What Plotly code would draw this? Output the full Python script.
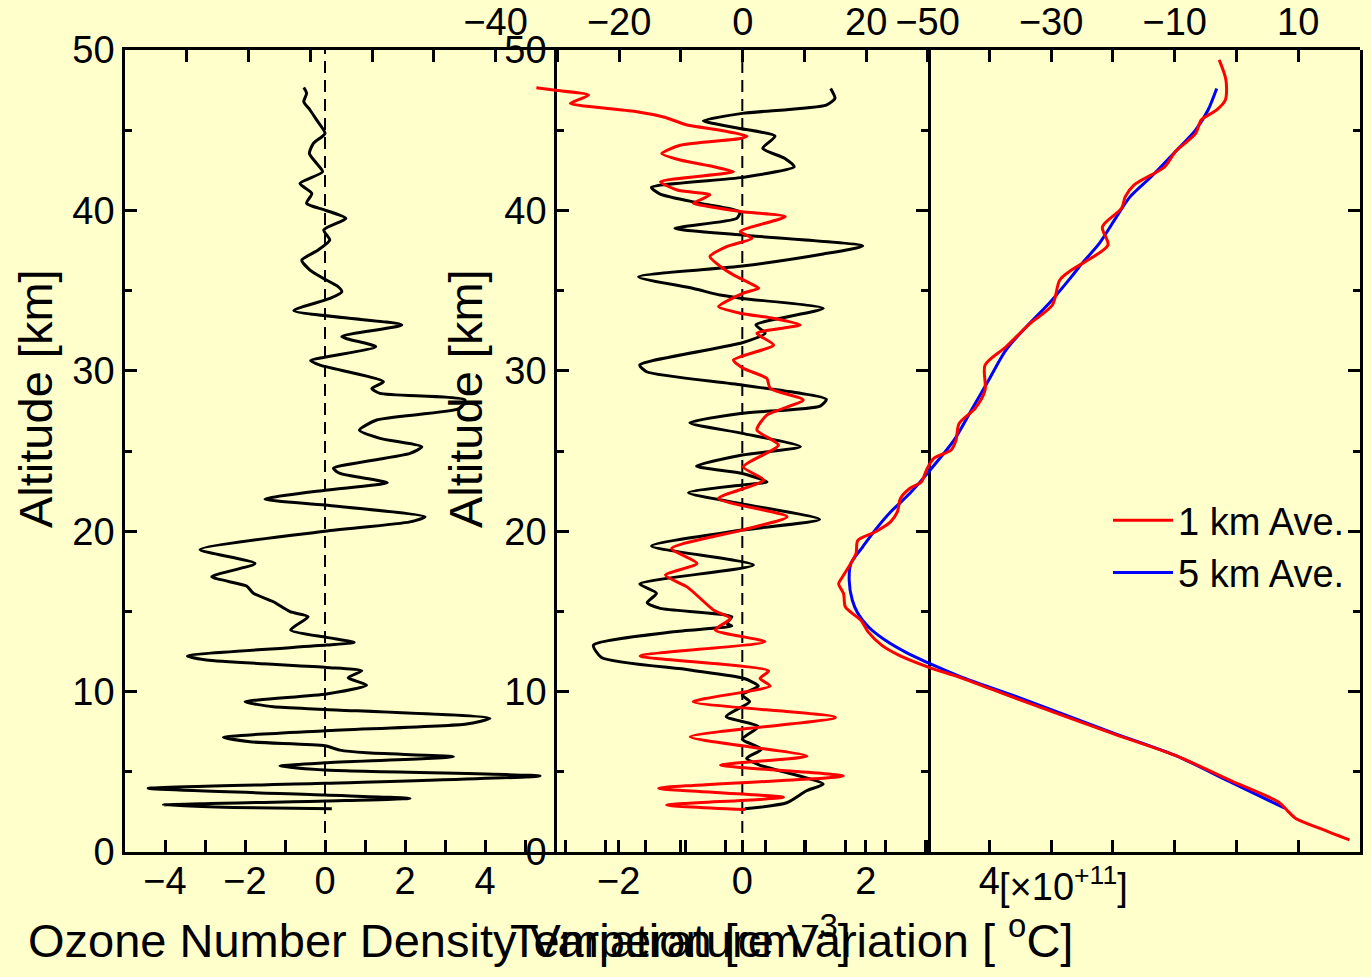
import plotly.graph_objects as go

# ---------------- data ----------------
# Panel 1: ozone number density variation (x 10^11 cm^-3)
oz1_alt = [47.66, 47.3, 46.78, 46.26, 45.64, 44.8, 44.18, 43.55, 42.93, 42.41, 41.68, 41.06, 40.44, 40.02,
           39.5, 38.78, 38.15, 37.53, 36.9, 36.28, 35.76, 35.24, 34.92, 34.51, 33.75, 32.86, 32.13, 31.5,
           30.63, 30.35, 29.32, 28.9, 28.59, 28.18, 27.66, 26.93, 26.3, 25.79, 25.26, 24.85, 23.92, 23.6,
           23.02, 22.56, 22.0, 21.63, 20.9, 20.58, 20.0, 18.86, 17.99, 17.16, 16.58, 16.13, 15.6, 14.98,
           14.67, 13.84, 13.38, 13.07, 12.9, 12.22, 11.97, 11.51, 11.3, 10.86, 10.4, 9.85, 9.37, 9.05, 8.89,
           8.33, 7.98, 7.56, 7.15, 6.87, 6.62, 6.35, 6.18, 5.94, 5.56, 5.36, 5.11, 4.74, 4.28, 3.97, 3.55,
           3.34, 3.18, 2.93, 2.78, 2.69]
oz1_val = [-0.53, -0.46, -0.53, -0.375, -0.21, 0.0, -0.29, -0.39, -0.21, -0.06, -0.625, -0.33, -0.46, 0.0,
           0.52, -0.03, 0.12, -0.17, -0.58, -0.375, -0.04, 0.33, 0.42, 0.125, -0.78, 1.92, 0.42, 1.27,
           -0.36, -0.125, 1.46, 1.17, 1.375, 3.5, 3.375, 1.29, 0.86, 1.375, 2.42, 2.125, 0.21, 0.375,
           1.56, 0.0, -1.5, 0.0, 2.5, 2.125, 0.0, -3.125, -1.75, -2.83, -1.96, -1.79, -1.29, -0.875,
           -0.42, -0.86, 0.04, 0.73, 0.04, -3.44, -2.96, 0.04, 0.92, 0.58, 1.04, 0.04, -2.0, -1.29, 0.0,
           4.125, 3.54, 0.0, -2.54, -1.875, 0.0, 0.375, 1.04, 3.21, 0.0, -1.125, 0.0, 5.375, 0.0, -4.42, 0.0,
           2.125, 0.0, -4.04, -2.29, 0.17]

# Panel 2: black variation profile (bottom axis) and temperature variation (top axis, deg C)
oz2_alt = [47.6, 46.99, 46.57, 46.05, 45.59, 45.11, 44.63, 43.87, 43.24, 42.72, 42.06, 41.43, 41.02, 40.44,
           39.92, 39.5, 38.88, 38.46, 37.78, 37.28, 36.53, 35.86, 35.13, 34.72, 34.51, 33.89, 32.86, 32.34,
           31.75, 30.36, 29.94, 29.11, 28.22, 27.8, 27.35, 26.76, 26.1, 25.27, 24.75, 24.06, 23.6, 23.08,
           22.88, 22.4, 21.7, 20.74, 20.07, 19.08, 17.89, 16.71, 16.13, 15.54, 15.19, 14.67, 14.25, 14.09,
           13.73, 12.9, 12.13, 11.35, 10.83, 10.35, 9.79, 9.37, 8.45, 7.82, 7.03, 6.41, 5.84, 5.42, 4.24,
           3.82, 3.07, 2.69]
oz2_val = [1.43, 1.50, 1.36, 0.0, -0.63, -0.04, 0.53, 0.33, 0.69, 0.84, 0.0, -1.47, -1.33, -0.68,
           -0.04, -0.09, -1.09, 0.0, 1.95, 1.31, 0.0, -1.68, -0.79, -0.36, 0.0, 1.31, 0.22, 0.37,
           0.0, -1.66, -1.55, 0.0, 1.36, 1.26, 0.0, -0.85, 0.0, 0.94, 0.0, -0.74, 0.0, 0.4,
           0.0, -0.87, 0.0, 1.25, 0.0, -1.47, 0.18, -1.66, -1.39, -1.54, -1.33, -0.17, -0.25, -0.17,
           -1.12, -2.41, -2.28, -0.85, 0.02, 0.26, 0.0, 0.12, -0.26, 0.26, 0.0, 0.31, 0.07, 0.28, 1.31,
           1.04, 0.72, 0.04]

tv_alt = [47.65, 47.5, 47.19, 46.67, 46.42, 46.15, 45.79, 45.32, 45.0, 44.63, 44.48, 44.06, 43.55, 43.14,
          42.72, 42.41, 41.78, 41.27, 40.96, 40.44, 40.23, 39.92, 39.61, 38.68, 38.26, 37.74, 37.12, 36.5,
          35.98, 35.46, 35.15, 34.84, 34.0, 33.59, 33.27, 32.86, 32.34, 31.61, 30.67, 30.15, 29.53, 28.9,
          28.18, 27.24, 26.31, 25.37, 24.01, 23.19, 22.04, 20.9, 20.07, 18.92, 17.99, 17.26, 16.53, 15.08,
          14.56, 13.84, 13.11, 12.22, 11.3, 10.82, 10.35, 9.37, 8.39, 7.18, 5.98, 5.42, 4.74, 3.97, 3.41,
          2.93, 2.65]
tv_val = [-33.4, -30.6, -24.95, -27.9, -23.3, -17.1, -12.5, -9.0, -3.6, 0.7, -0.4, -10.1, -13.1, -10.1,
          -4.7, -1.5, -13.3, -10.6, -5.3, -8.0, -5.3, -0.1, 6.9, -0.4, 1.5, -2.6, -5.3, -3.6,
          -1.5, 1.2, 2.6, 0.1, -3.9, -0.4, 5.0, 9.3, 2.3, 5.0, -1.5, 0.1, 3.9, 4.45,
          9.8, 3.9, 2.3, 5.8, 0.1, 3.4, -3.9, 7.2, -0.1, -11.5, -7.4, -12.5, -9.0, -4.7,
          -2.0, -4.45, 3.6, -16.6, 4.2, 2.8, 4.45, -8.0, 15.0, -8.5, 10.4, -3.6, 16.3, -13.6, 6.6,
          -12.3, 0.4]

# Panel 3: temperature profiles (deg C)
t1_alt = [49.38, 48.13, 46.88, 46.26, 45.64, 44.8, 43.66, 42.72, 41.58, 40.86, 40.13, 38.98, 37.84, 36.8,
          36.28, 35.66, 34.1, 32.96, 31.5, 30.36, 28.8, 27.66, 26.72, 25.69, 25.06, 24.54, 23.81, 23.08,
          22.66, 22.04, 21.2, 20.58, 19.95, 19.43, 18.6, 17.14, 16.73, 16.1, 15.27, 14.44, 13.71, 12.88,
          12.26, 11.53, 10.86, 9.56, 7.38, 6.02, 4.47, 3.12, 2.6, 2.09, 1.47, 0.75]
t1_val = [-2.8, -1.7, -1.8, -3.2, -5.7, -6.6, -9.9, -11.6, -16.6, -18.0, -18.6, -21.7, -20.8, -24.5,
          -26.7, -28.6, -29.8, -33.4, -37.3, -40.7, -40.7, -42.3, -44.9, -45.4, -46.2, -49.0, -50.2, -51.0,
          -52.9, -54.4, -54.9, -56.0, -58.5, -61.3, -61.6, -63.8, -64.4, -63.6, -63.3, -60.8, -59.6, -57.4,
          -54.6, -49.9, -44.6, -35.6, -20.0, -9.9, -1.0, 6.8, 8.2, 9.6, 13.5, 18.3]

t5_alt = [47.6, 46.26, 45.02, 43.66, 42.1, 40.86, 39.61, 37.95, 36.7, 35.87, 34.31, 32.75, 31.3, 29.43,
          27.56, 25.69, 23.81, 22.35, 21.2, 20.07, 19.03, 18.0, 16.96, 15.71, 14.88, 14.04, 13.21, 12.38,
          11.79, 10.92, 9.68, 7.43, 6.02, 4.37, 2.72]
t5_val = [-3.2, -4.6, -6.6, -9.9, -13.8, -17.2, -19.4, -22.2, -25.0, -26.7, -30.1, -34.0, -37.3, -40.1,
          -42.9, -45.7, -49.6, -52.9, -56.0, -58.5, -60.5, -62.4, -62.7, -62.2, -61.3, -59.6, -56.9, -53.2,
          -49.9, -44.6, -35.6, -20.0, -9.9, -1.0, 7.9]

zero_line_alt = [0, 50]
zero_line_val = [0, 0]

# tick labels
y_ticks = [0, 10, 20, 30, 40, 50]
x1_ticks = list(range(-5, 16))
x1_labels = {-4: "\u22124", -2: "\u22122", 0: "0", 2: "2", 4: "4"}
x2_ticks = list(range(-3, 11))
x2_labels = {-2: "\u22122", 0: "0", 2: "2", 4: "4"}
x3_ticks = list(range(-100, 31, 10))
x3_labels = {-40: "\u221240", -20: "\u221220", 0: "0", 20: "20"}
x4_ticks = list(range(-50, 21, 10))
x4_labels = {-50: "\u221250", -30: "\u221230", -10: "\u221210", 10: "10"}

# ---------------- figure ----------------
W, H = 1371, 977
BG = "#FFFFCC"
FONT = "Liberation Sans, Arial, sans-serif"
LW = 3

def px(v):
    return v / W

def py(v):
    return (H - v) / H

dom_a = [px(125), px(928)]
dom_b = [px(557), px(1360)]
dom_y = [py(852), py(50)]

fig = go.Figure()

dash = "12px,7px"
fig.add_trace(go.Scatter(x=zero_line_val, y=zero_line_alt, xaxis="x", yaxis="y", mode="lines",
                         line=dict(color="black", width=2, dash=dash), showlegend=False, hoverinfo="skip"))
fig.add_trace(go.Scatter(x=zero_line_val, y=zero_line_alt, xaxis="x2", yaxis="y2", mode="lines",
                         line=dict(color="black", width=2, dash=dash), showlegend=False, hoverinfo="skip"))

fig.add_trace(go.Scatter(x=oz1_val, y=oz1_alt, xaxis="x", yaxis="y", mode="lines",
                         line=dict(color="black", width=LW, shape="spline", smoothing=0.6),
                         showlegend=False, name="Ozone variation"))
fig.add_trace(go.Scatter(x=oz2_val, y=oz2_alt, xaxis="x2", yaxis="y2", mode="lines",
                         line=dict(color="black", width=LW, shape="spline", smoothing=0.6),
                         showlegend=False, name="Variation"))
fig.add_trace(go.Scatter(x=tv_val, y=tv_alt, xaxis="x3", yaxis="y", mode="lines",
                         line=dict(color="#FF0000", width=LW, shape="spline", smoothing=0.6),
                         showlegend=False, name="Temperature variation"))
fig.add_trace(go.Scatter(x=t5_val, y=t5_alt, xaxis="x4", yaxis="y", mode="lines",
                         line=dict(color="#0000FF", width=LW, shape="spline", smoothing=0.8),
                         name="5 km Ave.", legendrank=2))
fig.add_trace(go.Scatter(x=t1_val, y=t1_alt, xaxis="x4", yaxis="y", mode="lines",
                         line=dict(color="#FF0000", width=LW, shape="spline", smoothing=0.8),
                         name="1 km Ave.", legendrank=1))

tickfont = dict(family=FONT, size=38, color="black")
common = dict(showgrid=False, zeroline=False, showline=True, linecolor="black", linewidth=2.6,
              ticks="inside", tickcolor="black", tickwidth=2.6, ticklen=12, tickfont=tickfont,
              fixedrange=True, automargin=False)

def lab(ticks, labels):
    return [labels.get(t, "") for t in ticks]

fig.update_layout(
    width=W, height=H,
    margin=dict(l=0, r=0, t=0, b=0, pad=0),
    paper_bgcolor=BG, plot_bgcolor="rgba(0,0,0,0)",
    font=dict(family=FONT, color="black"),
    xaxis=dict(domain=dom_a, range=[-5, 15.075], anchor="y", side="bottom",
               tickmode="array", tickvals=x1_ticks, ticktext=lab(x1_ticks, x1_labels),
               ticklabelstandoff=-6, **common),
    xaxis2=dict(domain=dom_b, range=[-3, 10], anchor="y2", side="bottom",
                tickmode="array", tickvals=x2_ticks, ticktext=lab(x2_ticks, x2_labels),
                ticklabelstandoff=-6, **common),
    xaxis3=dict(domain=dom_a, range=[-100, 30], anchor="y", side="top",
                tickmode="array", tickvals=x3_ticks, ticktext=lab(x3_ticks, x3_labels),
                ticklabelstandoff=-3, **common),
    xaxis4=dict(domain=dom_b, range=[-110, 20], anchor="y", side="top",
                tickmode="array", tickvals=x4_ticks, ticktext=lab(x4_ticks, x4_labels),
                ticklabelstandoff=-3, **common),
    yaxis=dict(domain=dom_y, range=[0, 50], anchor="x", side="left", mirror="ticks",
               tickmode="array", tickvals=y_ticks, ticklabelstandoff=0,
               minor=dict(dtick=5, ticklen=7, ticks="inside", tickcolor="black", tickwidth=2.6),
               **common),
    yaxis2=dict(domain=dom_y, range=[0, 50], anchor="x2", side="left", mirror="ticks",
                tickmode="array", tickvals=y_ticks, ticklabelstandoff=0,
                minor=dict(dtick=5, ticklen=7, ticks="inside", tickcolor="black", tickwidth=2.6),
                **common),
    legend=dict(x=px(1108), y=py(489), xanchor="left", yanchor="top", bgcolor="rgba(0,0,0,0)",
                font=dict(family=FONT, size=38, color="black"), borderwidth=0, tracegroupgap=0,
                itemwidth=60),
    showlegend=True,
)

title_font = dict(family=FONT, size=47, color="black")
annos = [
    dict(text="Altitude [km]", x=px(35), y=py(399), textangle=-90),
    dict(text="Altitude [km]", x=px(465), y=py(399), textangle=-90),
    dict(text="Ozone Number Density Variation [cm<sup>\u22123</sup>]", x=px(26), y=py(937), xanchor="left"),
    dict(text="Temperature Variation [ <sup>o</sup>C]", x=px(508), y=py(937), xanchor="left"),
]
for a in annos:
    fig.add_annotation(xref="paper", yref="paper", showarrow=False, font=title_font,
                       xanchor=a.get("xanchor", "center"), yanchor="middle",
                       **{k: v for k, v in a.items() if k != "xanchor"})
fig.add_annotation(text="[\u00d710<sup>+11</sup>]", xref="paper", yref="paper", x=px(1063), y=py(884),
                   showarrow=False, font=dict(family=FONT, size=38, color="black"),
                   xanchor="center", yanchor="middle")

fig.write_html("out.html", config={"displayModeBar": False},
               post_script="document.body.style.margin='0';document.body.style.overflow='hidden';")
